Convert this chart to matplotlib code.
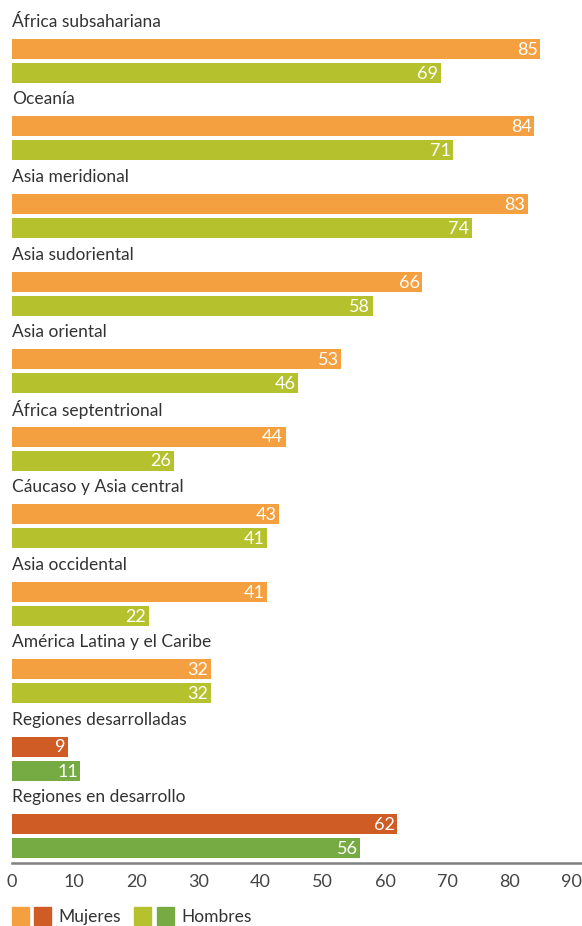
import numpy as np
import matplotlib.pyplot as plt
from matplotlib.patches import Rectangle

regiones = ['África subsahariana', 'Oceanía', 'Asia meridional', 'Asia sudoriental',
            'Asia oriental', 'África septentrional', 'Cáucaso y Asia central',
            'Asia occidental', 'América Latina y el Caribe', 'Regiones desarrolladas',
            'Regiones en desarrollo']
mujeres = [85, 84, 83, 66, 53, 44, 43, 41, 32, 9, 62]
hombres = [69, 71, 74, 58, 46, 26, 41, 22, 32, 11, 56]
ticks = [0, 10, 20, 30, 40, 50, 60, 70, 80, 90]

naranja, rojo = '#F5A040', '#CF5B25'
amarillo, verde = '#B5C22E', '#76AA43'
fuente = 'Lato'

W, H = 582, 926
fig = plt.figure(figsize=(W / 100, H / 100), dpi=100)
ax = fig.add_axes([12 / W, 1 - 863 / H, 1 - 12 / W, 863 / H])

pitch = 77.5
y = np.arange(len(regiones))
col_m = [naranja] * 9 + [rojo] * 2
col_h = [amarillo] * 9 + [verde] * 2
h = 20 / pitch
ax.barh(y + 27 / pitch, mujeres, height=h, color=col_m)
ax.barh(y + 51 / pitch, hombres, height=h, color=col_h)

for i in range(len(regiones)):
    ax.text(0, y[i], regiones[i], va='center', ha='left', fontsize=12.5,
            family=fuente, color='#333333')
    ax.text(mujeres[i] - 0.4, y[i] + 28 / pitch, str(mujeres[i]), va='center',
            ha='right', fontsize=13, family=fuente, color='white')
    ax.text(hombres[i] - 0.4, y[i] + 52 / pitch, str(hombres[i]), va='center',
            ha='right', fontsize=13, family=fuente, color='white')

ax.set_xlim(0, 91.7)
ax.set_ylim((863 - 22) / pitch, -22 / pitch)
ax.set_xticks(ticks)
ax.set_xticklabels([str(t) for t in ticks], fontsize=13, family=fuente, color='#444444')
ax.tick_params(axis='x', length=0, pad=8)
ax.set_yticks([])
for s in ['top', 'right', 'left']:
    ax.spines[s].set_visible(False)
ax.spines['bottom'].set_color('#808080')
ax.spines['bottom'].set_linewidth(1.8)

# leyenda
lg = fig.add_axes([0, 0, 1, 1])
lg.set_xlim(0, W)
lg.set_ylim(H, 0)
lg.axis('off')
lg.patch.set_alpha(0)
for x0, c in [(12, naranja), (34, rojo), (134, amarillo), (157, verde)]:
    lg.add_patch(Rectangle((x0, 907), 17, 18, color=c))
lg.text(58, 917, 'Mujeres', va='center', ha='left', fontsize=12.5, family=fuente,
        color='#333333')
lg.text(181, 917, 'Hombres', va='center', ha='left', fontsize=12.5, family=fuente,
        color='#333333')

fig.savefig('out.png', dpi=100)
